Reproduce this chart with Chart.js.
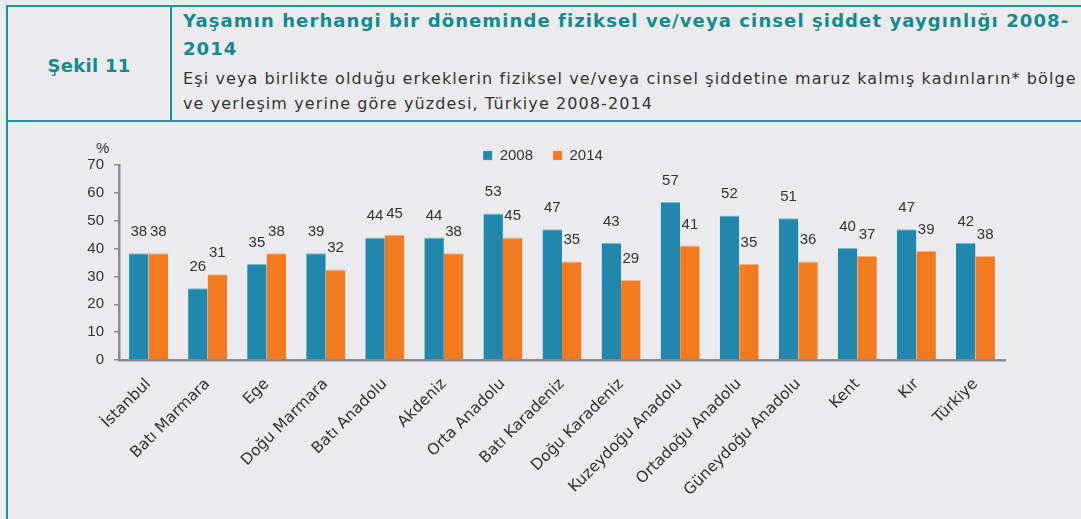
<!DOCTYPE html>
<html lang="tr">
<head>
<meta charset="utf-8">
<script src="https://cdn.jsdelivr.net/npm/chart.js@4"></script>
<style>
  html, body { margin: 0; padding: 0; }
  body { width: 1081px; height: 519px; background: #ebebed; position: relative; overflow: hidden; font-family: "DejaVu Sans", sans-serif; }
  .cizgi { position: absolute; background: #1c9598; }
  #sekil { position: absolute; left: 8px; top: 8px; width: 162px; height: 114px; display: flex; align-items: center; justify-content: center; color: #138a8c; font-weight: bold; font-size: 18px; letter-spacing: 0.3px; }
  #baslik { position: absolute; left: 183px; top: 7px; color: #138a8c; font-weight: bold; font-size: 18px; line-height: 28px; white-space: nowrap; letter-spacing: 1.1px; }
  #alt { position: absolute; left: 183px; top: 66px; color: #333; font-size: 16px; line-height: 25px; white-space: nowrap; letter-spacing: 1.1px; }
  #yuzde { position: absolute; left: 96px; top: 139px; font-family: "Liberation Sans", sans-serif; font-size: 15px; color: #333; }
  #grafik { position: absolute; left: 0; top: 123px; }
</style>
</head>
<body>
<div class="cizgi" style="left:6px; top:5px; width:1075px; height:2px;"></div>
<div class="cizgi" style="left:6px; top:5px; width:2px; height:514px;"></div>
<div class="cizgi" style="left:170px; top:5px; width:2px; height:117px;"></div>
<div class="cizgi" style="left:6px; top:120px; width:1075px; height:2px;"></div>
<div id="sekil">Şekil 11</div>
<div id="baslik">Yaşamın herhangi bir döneminde fiziksel ve/veya cinsel şiddet yaygınlığı 2008-<br>2014</div>
<div id="alt">Eşi veya birlikte olduğu erkeklerin fiziksel ve/veya cinsel şiddetine maruz kalmış kadınların* bölge<br>ve yerleşim yerine göre yüzdesi, Türkiye 2008-2014</div>
<div id="yuzde">%</div>
<canvas id="grafik" width="1081" height="396"></canvas>
<script>
const kategoriler = ['İstanbul', 'Batı Marmara', 'Ege', 'Doğu Marmara', 'Batı Anadolu', 'Akdeniz', 'Orta Anadolu',
  'Batı Karadeniz', 'Doğu Karadeniz', 'Kuzeydoğu Anadolu', 'Ortadoğu Anadolu', 'Güneydoğu Anadolu', 'Kent', 'Kır', 'Türkiye'];
// bar heights as drawn
const degerler2008 = [38.3, 25.8, 34.5, 38.3, 44.0, 44.0, 52.6, 46.9, 42.1, 56.7, 51.9, 50.9, 40.2, 46.9, 42.1];
const degerler2014 = [38.3, 30.8, 38.3, 32.5, 45.0, 38.3, 44.0, 35.4, 28.7, 41.1, 34.5, 35.4, 37.3, 39.2, 37.3];
// printed labels above bars
const etiketler2008 = ['38', '26', '35', '39', '44', '44', '53', '47', '43', '57', '52', '51', '40', '47', '42'];
const etiketler2014 = ['38', '31', '38', '32', '45', '38', '45', '35', '29', '41', '35', '36', '37', '39', '38'];
const yMin = 0, yMax = 70, yAdim = 10;

const legendYukseklik = {
  id: 'legendYukseklik',
  beforeInit(chart) {
    const fit = chart.legend.fit;
    chart.legend.fit = function () { fit.call(this); this.height = 37; };
  }
};

const veriEtiketleri = {
  id: 'veriEtiketleri',
  afterDatasetsDraw(chart) {
    const ctx = chart.ctx;
    ctx.save();
    ctx.font = '15px "Liberation Sans"';
    ctx.fillStyle = '#333';
    ctx.textAlign = 'center';
    ctx.textBaseline = 'alphabetic';
    chart.data.datasets.forEach((ds, i) => {
      chart.getDatasetMeta(i).data.forEach((bar, j) => {
        ctx.fillText(ds.etiketler[j], bar.x, bar.y - 17);
      });
    });
    ctx.restore();
  }
};

new Chart(document.getElementById('grafik').getContext('2d'), {
  type: 'bar',
  data: {
    labels: kategoriler,
    datasets: [
      { label: '2008', data: degerler2008, etiketler: etiketler2008, backgroundColor: '#2287ad',
        borderColor: '#7dbbd3', borderWidth: { top: 1, left: 0, right: 0, bottom: 0 }, borderSkipped: false },
      { label: '2014', data: degerler2014, etiketler: etiketler2014, backgroundColor: '#f47a20',
        borderColor: '#f8b283', borderWidth: { top: 1, left: 0, right: 0, bottom: 0 }, borderSkipped: false }
    ]
  },
  options: {
    responsive: false,
    animation: false,
    layout: { padding: { top: 5, left: 81, right: 76, bottom: 0 } },
    datasets: { bar: { categoryPercentage: 0.66, barPercentage: 1 } },
    plugins: {
      legend: {
        position: 'top',
        labels: { boxWidth: 9, boxHeight: 9, padding: 20, color: '#333', font: { family: 'Liberation Sans', size: 15 } }
      },
      tooltip: { enabled: false }
    },
    scales: {
      x: {
        grid: { display: false },
        border: { display: true, color: '#8c8c8c', width: 2.5 },
        ticks: { autoSkip: false, maxRotation: 45, minRotation: 45, padding: 7, color: '#333',
          font: { family: 'DejaVu Sans', size: 15.5 } },
        afterFit: s => { s.height = 159; }
      },
      y: {
        min: yMin, max: yMax,
        grid: { drawOnChartArea: false, drawTicks: true, tickLength: 5, color: '#8c8c8c', lineWidth: 1.5 },
        border: { color: '#8c8c8c', width: 2.5 },
        ticks: { stepSize: yAdim, padding: 10, color: '#333', font: { family: 'Liberation Sans', size: 15 } },
        afterFit: s => { s.width = 38; }
      }
    }
  },
  plugins: [legendYukseklik, veriEtiketleri]
});
</script>
</body>
</html>
